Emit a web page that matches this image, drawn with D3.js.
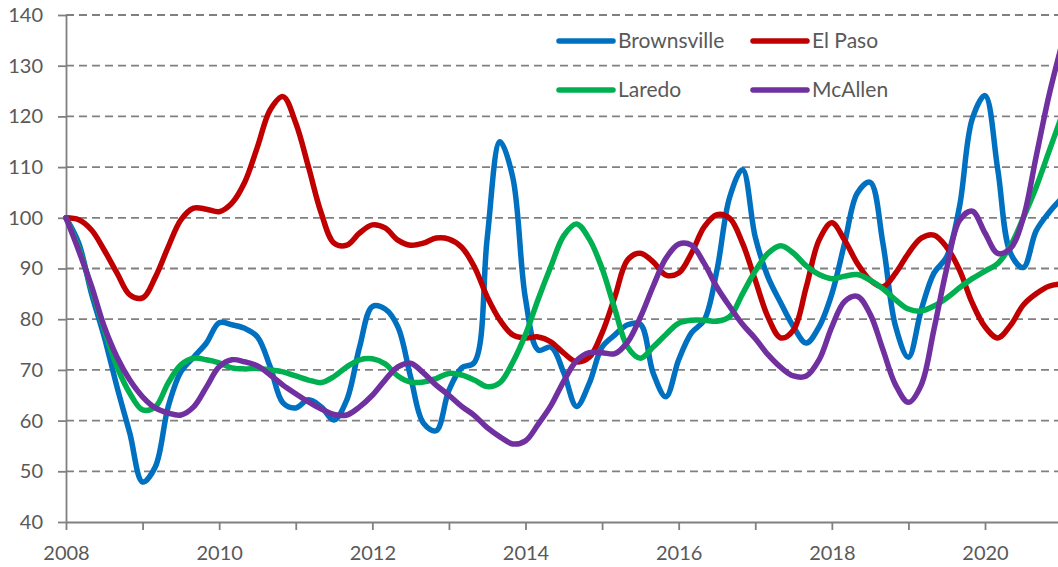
<!DOCTYPE html>
<html>
<head>
<meta charset="utf-8">
<script src="https://cdn.jsdelivr.net/npm/d3@7"></script>
<style>
  html, body { margin: 0; padding: 0; background: #fff; overflow: hidden; }
  svg { display: block; }
  text { font-family: Lato, "Open Sans", sans-serif; fill: #595959; }
</style>
</head>
<body>
<svg id="chart" width="1058" height="567"></svg>
<script>
// ---- data (bimonthly observations, index = 100 at start of 2008) ----
const years = [2008, 2009, 2010, 2011, 2012, 2013, 2014, 2015, 2016, 2017, 2018, 2019, 2020, 2021];
const months = [1, 3, 5, 7, 9, 11];
const xTickLabels = [2008, 2010, 2012, 2014, 2016, 2018, 2020];
const yTicks = [40, 50, 60, 70, 80, 90, 100, 110, 120, 130, 140];
const seriesNames = ["Brownsville", "El Paso", "Laredo", "McAllen"];
const seriesColors = ["#0070C0", "#C00000", "#00B050", "#7030A0"];

const brownsville = [100, 95, 85, 76.5, 66.6, 57.5, 47.9, 50.9, 62.7, 69.6, 72.5, 75.3, 79.3, 78.9, 78.2, 76.5, 70.6, 63.5, 62.5, 64.1, 62.7, 60.1, 64.1, 74.5, 82.5, 82, 78.5, 68.6, 59.5, 58, 66, 70.4, 71.5, 96, 115, 108, 84, 73.9, 74.5, 69.4, 62.8, 67.4, 74.5, 76.9, 78.9, 79, 69.4, 64.7, 72, 77.3, 79.8, 89.7, 104.1, 109.5, 96.2, 88.3, 83.2, 78.5, 75.3, 78.5, 85, 95, 104.9, 107, 95, 78.5, 72.5, 81.8, 89.1, 92.3, 102.2, 119.5, 124.1, 109.5, 93, 90.2, 97.4, 101, 103.8];
const elPaso = [100, 99.6, 97.6, 93.6, 89.1, 84.8, 84.2, 88.3, 94.2, 99.6, 101.9, 101.7, 101.2, 102.9, 107, 114, 121.3, 123.9, 118.7, 110, 100.9, 95, 94.6, 97, 98.6, 98, 95.6, 94.6, 95, 96, 95.8, 94.2, 90.3, 84.4, 79.8, 76.9, 76.3, 76.5, 75.5, 73.3, 71.6, 72.5, 77.3, 84.4, 91.7, 93, 91.3, 88.7, 89.1, 93, 98.2, 100.6, 99.9, 95, 87.7, 80.4, 76.3, 77.9, 86.4, 95.6, 99, 95.6, 91, 87.7, 86.4, 89.1, 93, 96, 96.6, 94.2, 89.7, 83.2, 78.5, 76.3, 78.8, 82.8, 85, 86.5, 87];
const laredo = [100, 94, 86, 77.9, 70.6, 65.4, 62.1, 62.7, 67.4, 71, 72.3, 72, 71.4, 70.4, 70.2, 70.3, 70, 69.6, 68.8, 68, 67.5, 68.7, 70.6, 72, 72.2, 71.2, 68.8, 67.6, 67.6, 68.3, 69.3, 69, 68, 66.7, 67.5, 71.5, 77, 84, 90.5, 96.5, 98.8, 95.8, 90, 82, 74.5, 72.3, 74.5, 77, 79.2, 79.8, 79.8, 79.6, 80.5, 85, 89.5, 93, 94.5, 93, 90.5, 88.8, 88, 88.5, 88.8, 87.7, 86, 83.8, 82, 81.6, 82.6, 84.2, 86.2, 88, 89.5, 91, 94.5, 100, 106, 113, 120];
const mcallen = [100, 93.5, 86.5, 78.5, 72.5, 68, 64.7, 62.5, 61.5, 61.1, 62.7, 66.6, 70.6, 72, 71.6, 70.8, 69, 67, 65.3, 63.7, 62.3, 61.2, 61.1, 62.7, 65, 68, 70.6, 71.3, 69.4, 67, 65, 62.8, 61, 58.6, 56.8, 55.4, 56, 59.3, 63, 67.8, 71.8, 73.4, 73.4, 73.2, 75.5, 80.4, 86.5, 92, 94.8, 94.6, 91, 86.3, 82.5, 79, 76.2, 73, 70.5, 68.8, 68.8, 72, 78.5, 83.5, 84.5, 81, 74, 67, 63.6, 67, 78, 90, 99.5, 101.3, 97, 93, 94, 100, 112, 124, 134];

// period positions (decimal years) built from the year/month categories
const periods = [];
years.forEach(yr => months.forEach(m => periods.push(yr + (m - 1) / 12)));
const allSeries = [brownsville, elPaso, laredo, mcallen];

// ---- layout ----
const svg = d3.select("#chart");
const x = d3.scaleLinear().domain([2008, 2021]).range([66, 1061.6]);
const y = d3.scaleLinear().domain([40, 140]).range([522, 15]);
const axisColor = "#808080";

// gridlines
svg.append("g").selectAll("line")
  .data(yTicks.filter(t => t !== 40))
  .join("line")
  .attr("x1", x(2008)).attr("x2", 1058)
  .attr("y1", d => y(d)).attr("y2", d => y(d))
  .attr("stroke", axisColor).attr("stroke-width", 1.8)
  .attr("stroke-dasharray", "8,5");

// y axis
const yAxis = svg.append("g").attr("transform", `translate(${x(2008)},0)`)
  .call(d3.axisLeft(y).tickValues(yTicks).tickSize(8).tickPadding(15).tickSizeOuter(0));
yAxis.select(".domain").attr("stroke", axisColor).attr("stroke-width", 1.8);
yAxis.selectAll(".tick line").attr("stroke", axisColor).attr("stroke-width", 1.8);
yAxis.selectAll("text").style("font-size", "20px").attr("fill", "#595959");

// x axis
const xAxis = svg.append("g").attr("transform", `translate(0,${y(40)})`)
  .call(d3.axisBottom(x).tickValues(years).tickSize(8).tickPadding(16).tickSizeOuter(0)
    .tickFormat(d => xTickLabels.includes(d) ? String(d) : ""));
xAxis.select(".domain").attr("stroke", axisColor).attr("stroke-width", 1.8);
xAxis.selectAll(".tick line").attr("stroke", axisColor).attr("stroke-width", 1.8);
xAxis.selectAll("text").style("font-size", "20px").attr("fill", "#595959");

// lines
const line = d3.line()
  .x((d, i) => x(periods[i]))
  .y(d => y(d))
  .curve(d3.curveCatmullRom.alpha(0.5));

svg.append("g").selectAll("path")
  .data(allSeries)
  .join("path")
  .attr("d", d => line(d))
  .attr("fill", "none")
  .attr("stroke", (d, i) => seriesColors[i])
  .attr("stroke-width", 5.5)
  .attr("stroke-linejoin", "round")
  .attr("stroke-linecap", "round");

// legend
const legendPos = [[559, 41], [753, 41], [559, 90], [753, 90]];
const lg = svg.append("g").selectAll("g")
  .data(seriesNames)
  .join("g")
  .attr("transform", (d, i) => `translate(${legendPos[i][0]},${legendPos[i][1]})`);
lg.append("line")
  .attr("x1", 0).attr("x2", 54).attr("y1", 0).attr("y2", 0)
  .attr("stroke", (d, i) => seriesColors[i])
  .attr("stroke-width", 5.5).attr("stroke-linecap", "round");
lg.append("text")
  .attr("x", 59).attr("y", 0).attr("dy", "0.35em")
  .style("font-size", "21px")
  .text(d => d);
</script>
</body>
</html>
